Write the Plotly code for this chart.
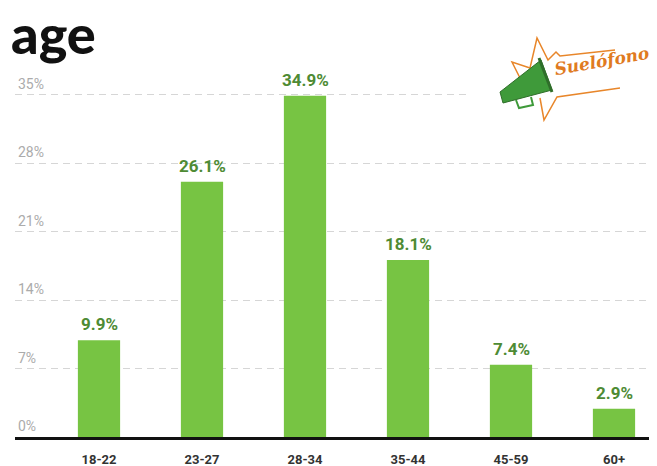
import plotly.graph_objects as go

categories = ["18-22", "23-27", "28-34", "35-44", "45-59", "60+"]
values = [9.9, 26.1, 34.9, 18.1, 7.4, 2.9]
labels = ["9.9%", "26.1%", "34.9%", "18.1%", "7.4%", "2.9%"]
y_ticks = [7, 14, 21, 28, 35]
y_tick_labels = ["7%", "14%", "21%", "28%", "35%"]
zero_label = "0%"

OFF = 8  # page body margin
W, H = 657 - OFF, 466 - OFF
ML, MR, MT, MB = 7, 0, 38, 29
PW, PH = W - ML - MR, H - MT - MB


def px(x):  # screen pixel -> paper
    return (x - OFF - ML) / PW


def py(y):
    return (H - MB - (y - OFF)) / PH


x_idx = list(range(len(categories)))

fig = go.Figure()
fig.add_trace(go.Bar(
    x=x_idx, y=values, width=0.41,
    marker=dict(color="#77c443", line=dict(width=0)),
    hoverinfo="skip",
))

ann = []
for xi, v, t in zip(x_idx, values, labels):
    ann.append(dict(x=xi, y=v, xref="x", yref="y", text=t, showarrow=False,
                    yanchor="bottom", yshift=4,
                    font=dict(family="Roboto", size=17, color="#4e8b34", weight="bold")))
for v, t in zip([0] + y_ticks, [zero_label] + y_tick_labels):
    ann.append(dict(x=0, y=v, xref="paper", yref="y", text=t, showarrow=False,
                    xanchor="left", yanchor="bottom", xshift=1, yshift=1,
                    font=dict(family="Roboto", size=14, color="#ababab", weight="normal")))

# logo (decorative approximation)
ann.append(dict(x=px(602), y=py(61), xref="paper", yref="paper", text="<i>Suelófono</i>",
                showarrow=False, textangle=-10, xanchor="center", yanchor="middle",
                font=dict(family="DejaVu Serif", size=17, color="#e07b1f", weight="bold")))

orange = "#e8862a"
shapes = [
    # white backing for logo (hides the grid line there)
    dict(type="rect", xref="paper", yref="paper", x0=px(468), x1=px(660), y0=py(125), y1=py(30),
         fillcolor="white", line=dict(width=0), layer="above"),
    # starburst upper
    dict(type="path", xref="paper", yref="paper", layer="above",
         path=(f"M {px(522)},{py(82)} L {px(512)},{py(62)} L {px(530)},{py(68)} L {px(537)},{py(38)} "
               f"L {px(548)},{py(60)} L {px(556)},{py(52)} L {px(560)},{py(56)} L {px(615)},{py(50)}"),
         line=dict(color=orange, width=1.5)),
    # starburst lower
    dict(type="path", xref="paper", yref="paper", layer="above",
         path=(f"M {px(540)},{py(98)} L {px(544)},{py(120)} L {px(557)},{py(97)} L {px(620)},{py(88)}"),
         line=dict(color=orange, width=1.5)),
    # megaphone cone
    dict(type="path", xref="paper", yref="paper", layer="above",
         path=(f"M {px(500)},{py(92)} L {px(503)},{py(103)} L {px(552)},{py(90)} "
               f"L {px(541)},{py(60)} Z"),
         fillcolor="#3f9a3a", line=dict(color="#2f6e2a", width=1)),
    dict(type="path", xref="paper", yref="paper", layer="above",
         path=(f"M {px(539)},{py(58)} L {px(552)},{py(92)}"),
         line=dict(color="#2f6e2a", width=3)),
    # handle
    dict(type="path", xref="paper", yref="paper", layer="above",
         path=f"M {px(516)},{py(100)} L {px(519)},{py(108)} L {px(533)},{py(105)} L {px(531)},{py(97)}",
         line=dict(color="#3f9a3a", width=2)),
]

fig.update_layout(
    width=W, height=H,
    margin=dict(l=ML, r=MR, t=MT, b=MB, pad=0, autoexpand=False),
    paper_bgcolor="white", plot_bgcolor="white",
    showlegend=False,
    title=dict(text="age", x=3 / W, xanchor="left", y=1 - 8 / H, yanchor="top",
               font=dict(family="Lato", size=54, color="#111111", weight=900)),
    xaxis=dict(range=[-0.8155, 5.4175], tickmode="array", tickvals=x_idx, ticktext=categories,
               showgrid=False, zeroline=False, showline=True, linecolor="#111111", linewidth=3,
               ticks="", ticklabelstandoff=8, automargin=False,
               tickfont=dict(family="Roboto", size=13, color="#333333", weight="bold")),
    yaxis=dict(range=[0, 40], tickmode="array", tickvals=y_ticks, showticklabels=False,
               showgrid=True, gridcolor="#d6d6d6", griddash="7px,5px", gridwidth=1,
               zeroline=False, showline=False, automargin=False),
    annotations=ann,
    shapes=shapes,
)

fig.write_html("out.html")
